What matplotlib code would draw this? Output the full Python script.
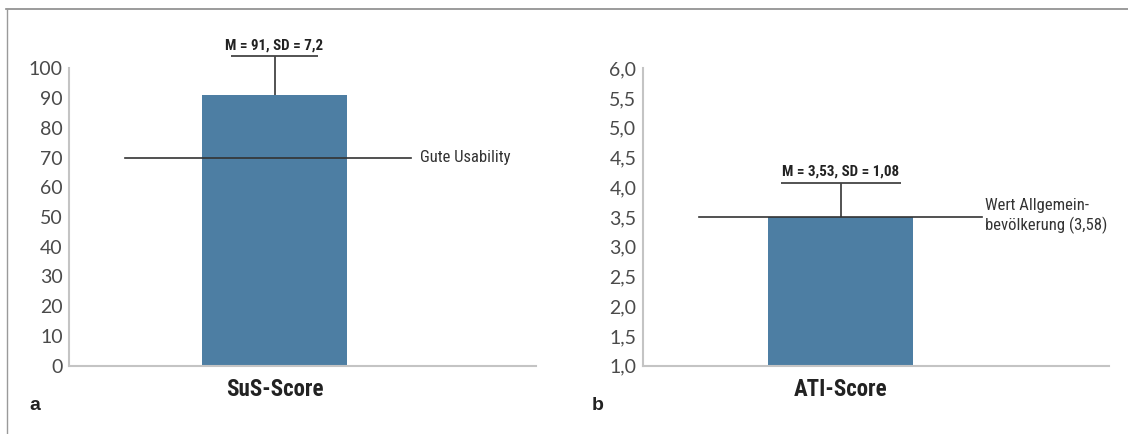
import matplotlib
matplotlib.use("Agg")
import matplotlib.pyplot as plt
from matplotlib import font_manager
from matplotlib.lines import Line2D
from matplotlib.ticker import FuncFormatter

# --- data ---
categories = ["SuS-Score", "ATI-Score"]
bar_values = [91, 3.5]
err_drawn = [13, 0.58]
stat_labels = ["M = 91, SD = 7,2", "M = 3,53, SD = 1,08"]
ref_values = [70, 3.5]
ref_labels = ["Gute Usability", "Wert Allgemein-\nbevölkerung (3,58)"]
y_limits = [(0, 100), (1, 6)]
y_ticks = [list(range(0, 101, 10)), [1.0, 1.5, 2.0, 2.5, 3.0, 3.5, 4.0, 4.5, 5.0, 5.5, 6.0]]
panel_letters = ["a", "b"]


def pick_condensed():
    # look for a narrow face among the installed fonts, fall back to Liberation Sans
    fonts = font_manager.fontManager.ttflist
    names = {f.name for f in fonts}
    for fam in ("Liberation Sans Narrow", "Roboto Condensed", "Open Sans Condensed",
                "DejaVu Sans Condensed"):
        if fam in names:
            return fam, "normal"
    for f in fonts:
        if f.name in ("DejaVu Sans", "Open Sans", "Roboto") and f.stretch in ("condensed", "semi-condensed", 75, 87.5):
            return f.name, "condensed"
    return "Liberation Sans", "normal"


narrow, narrow_stretch = pick_condensed()
installed = {f.name for f in font_manager.fontManager.ttflist}
tick_font = "Lato" if "Lato" in installed else "DejaVu Sans"

BAR_COLOR = "#4d7ea3"
LINE_COLOR = "#333333"
AXIS_COLOR = "#c4c4c4"

fig = plt.figure(figsize=(11.28, 4.34), dpi=100)

# outer frame (top and left only)
fig.add_artist(Line2D([6 / 1128, 1.0], [1 - 8.5 / 434] * 2, color="#8a8a8a", lw=1.2))
fig.add_artist(Line2D([6.5 / 1128] * 2, [0.0, 1 - 8.5 / 434], color="#9a9a9a", lw=1.0))

axes_rects = [
    [68.9 / 1128, 1 - 365.7 / 434, 466.8 / 1128, 297.4 / 434],
    [642.6 / 1128, 1 - 365.7 / 434, 466.2 / 1128, 297.4 / 434],
]
xlims = [(-0.855, 1.086), (-0.82, 1.11)]
ref_spans = [(-0.622, 0.566), (-0.585, 0.585)]
label_gap = [0.037, 0.011]
cap_half = [0.182, 0.249]
letter_x = [29.6 / 1128, 591.9 / 1128]

for i in range(2):
    ax = fig.add_axes(axes_rects[i])
    ax.bar([0], [bar_values[i]], width=0.6, color=BAR_COLOR, zorder=2)

    # upper error whisker with a cap
    top = bar_values[i] + err_drawn[i]
    ax.vlines(0, bar_values[i], top, color="#444444", lw=1.3, zorder=3, clip_on=False)
    ax.hlines(top, -cap_half[i], cap_half[i], color="#444444", lw=1.3, zorder=3,
              clip_on=False)

    ax.annotate(stat_labels[i], xy=(0, top), xytext=(0, 3), textcoords="offset points",
                ha="center", va="bottom", fontsize=10.8, fontweight="bold",
                family=narrow, fontstretch=narrow_stretch, color="#222222",
                annotation_clip=False)

    # reference line
    ax.plot(ref_spans[i], [ref_values[i]] * 2, color=LINE_COLOR, lw=1.2,
            zorder=4, clip_on=False)
    ax.text(ref_spans[i][1] + label_gap[i], ref_values[i] + (0.015 if i else 0),
            ref_labels[i], ha="left", va="center", fontsize=12, family=narrow,
            fontstretch=narrow_stretch, color="#333333", linespacing=1.3,
            clip_on=False)

    ax.set_xlim(*xlims[i])
    ax.set_ylim(*y_limits[i])
    ax.set_yticks(y_ticks[i])
    if i == 1:
        ax.yaxis.set_major_formatter(FuncFormatter(lambda v, p: f"{v:.1f}".replace(".", ",")))
    ax.set_xticks([0])
    ax.set_xticklabels([categories[i]], fontsize=16.5, fontweight="bold",
                       family=narrow, fontstretch=narrow_stretch, color="#222222")

    ax.tick_params(axis="y", length=0, pad=4.5, labelsize=14, labelcolor="#4a4a4a")
    ax.tick_params(axis="x", length=0, pad=9)
    for lab in ax.get_yticklabels():
        lab.set_family(tick_font)

    for side in ("top", "right"):
        ax.spines[side].set_visible(False)
    for side in ("left", "bottom"):
        ax.spines[side].set_color(AXIS_COLOR)
        ax.spines[side].set_linewidth(1.5)

    fig.text(letter_x[i], 1 - 406 / 434, panel_letters[i], ha="left", va="center",
             fontsize=14, fontweight="bold", family="Liberation Sans", color="#222222")

fig.savefig("out.png", dpi=100)
